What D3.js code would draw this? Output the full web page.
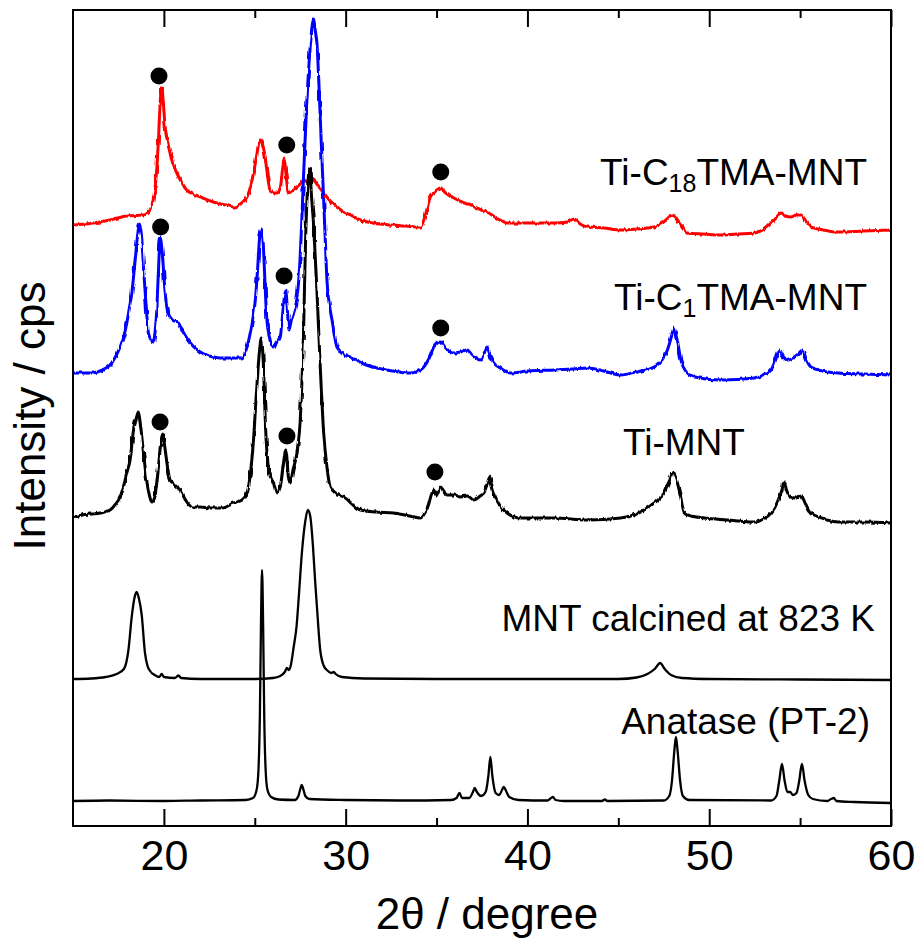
<!DOCTYPE html>
<html>
<head>
<meta charset="utf-8">
<script src="https://cdn.jsdelivr.net/npm/d3@7"></script>
<style>
  html, body { margin: 0; padding: 0; background: #fff; }
  svg { display: block; }
  text { font-family: "Liberation Sans", Arial, Helvetica, sans-serif; fill: #000; }
</style>
</head>
<body>
<svg id="chart" width="917" height="938"></svg>
<script>
// ---------------- DATA (2θ in degrees, intensity in offset cps units) ----------------
const xTicksMajor = [20, 30, 40, 50, 60];
const xTicksMinor = [25, 35, 45, 55];

const tiC18 = [[15,601],[16.12,603],[17.04,606],[17.96,610],[18.88,611],[19.24,616],[19.4,625],[19.52,639],[19.62,660],[19.7,686],[19.8,725],[19.88,738],[19.96,725],[20.07,699],[20.2,684],[20.34,673],[20.5,662],[20.71,653],[21.0,643],[21.26,636],[21.6,632],[22.0,629],[22.91,623],[23.4,621],[23.83,619],[24.2,622],[24.57,629],[24.8,642],[24.93,653],[25.1,670],[25.22,683],[25.3,686],[25.42,682],[25.57,669],[25.7,650],[25.85,636],[26.05,633],[26.22,633],[26.4,638],[26.55,660],[26.62,668],[26.7,655],[26.86,633],[27.1,636],[27.32,639],[27.5,642],[27.69,646],[27.9,644],[28.05,648],[28.24,646],[28.5,640],[28.79,633],[29.1,626],[29.52,619],[29.9,614],[30.26,611],[30.81,606],[31.5,603],[32.5,601],[33.3,600],[34.11,599],[34.4,612],[34.66,629],[34.9,634],[35.21,638],[35.5,633],[35.95,628],[36.4,624],[36.86,621],[37.3,617],[37.78,614],[38.3,608],[38.88,603],[40,603],[41.46,603],[42.2,604],[42.56,607],[42.9,602],[43.3,599],[44.2,598],[45.13,596],[46,597],[46.97,599],[47.5,604],[47.98,611],[48.3,604],[48.8,593],[49.7,592],[50.64,591],[51.5,592],[52.48,593],[53.1,598],[53.58,606],[53.95,613],[54.2,610],[54.49,609],[54.8,611],[55.04,611],[55.3,605],[55.6,599],[56.3,596],[57.07,594],[58.5,595],[60,596]];

const tiC1 = [[15,453],[16.12,453],[16.6,456],[17.04,461],[17.3,468],[17.59,479],[17.8,490],[17.96,503],[18.1,518],[18.23,532],[18.42,566],[18.55,590],[18.66,602],[18.77,590],[18.88,558],[19.0,526],[19.15,493],[19.3,486],[19.42,484],[19.52,495],[19.6,513],[19.7,555],[19.8,588],[19.9,575],[20.07,533],[20.2,515],[20.34,509],[20.55,505],[20.8,504],[21.0,496],[21.26,488],[21.6,480],[22.0,474],[22.5,470],[23.1,468],[23.6,468],[24.2,468],[24.5,475],[24.75,493],[24.9,508],[25.03,526],[25.15,555],[25.25,585],[25.36,597],[25.47,580],[25.57,540],[25.67,505],[25.8,490],[26.03,479],[26.25,484],[26.4,489],[26.55,515],[26.65,532],[26.7,536],[26.78,520],[26.88,496],[27.0,505],[27.14,513],[27.3,526],[27.42,546],[27.55,590],[27.69,653],[27.85,720],[27.97,759],[28.1,790],[28.24,807],[28.33,795],[28.42,783],[28.52,745],[28.6,709],[28.7,665],[28.79,626],[28.88,585],[28.97,546],[29.1,522],[29.25,506],[29.52,479],[29.9,472],[30.26,469],[31.0,462],[31.73,458],[32.6,455],[33.57,453],[34.11,456],[34.3,459],[34.6,468],[34.85,479],[35.05,483],[35.22,484],[35.5,478],[35.95,473],[36.3,474],[36.68,476],[37.0,470],[37.41,466],[37.6,472],[37.78,479],[37.95,470],[38.15,463],[38.5,458],[39.07,453],[40,455],[41.46,456],[42.5,457],[43.3,458],[44.2,455],[45.13,451],[46,454],[46.97,459],[47.4,466],[47.7,476],[47.9,488],[48.07,498],[48.2,490],[48.44,466],[48.7,455],[49.17,449],[50.64,446],[52.48,448],[53.0,451],[53.4,456],[53.65,466],[53.86,476],[54.05,470],[54.3,466],[54.6,468],[54.9,472],[55.13,476],[55.35,466],[55.6,459],[56.2,455],[57.07,453],[58.5,452],[60,451]];

const tiMNT = [[15,308],[15.5,311],[16,312],[16.5,313],[17.04,316],[17.3,321],[17.59,329],[17.8,341],[17.96,353],[18.14,366],[18.33,396],[18.5,409],[18.6,414],[18.7,403],[18.88,373],[19.05,346],[19.2,331],[19.33,324],[19.5,329],[19.7,359],[19.85,386],[19.94,392],[20.05,379],[20.2,359],[20.34,346],[20.5,343],[20.71,339],[20.9,336],[21.1,329],[21.26,324],[21.6,319],[22,319],[22.55,318],[23.2,318],[23.83,323],[24.3,326],[24.57,333],[24.8,359],[24.93,386],[25.1,436],[25.25,473],[25.36,488],[25.47,463],[25.6,396],[25.8,353],[26.03,343],[26.2,333],[26.4,339],[26.55,359],[26.71,376],[26.85,349],[26.95,343],[27.1,356],[27.32,373],[27.5,406],[27.69,500],[27.8,590],[27.95,650],[28.02,658],[28.12,630],[28.24,600],[28.42,535],[28.6,460],[28.79,393],[28.97,359],[29.15,339],[29.5,332],[29.89,329],[30.81,316],[31.7,314],[32.65,313],[33.5,310],[34.11,308],[34.5,318],[34.84,336],[35.0,330],[35.21,339],[35.58,331],[36.0,331],[36.31,329],[36.7,330],[37.05,326],[37.4,330],[37.6,333],[37.8,343],[37.93,349],[38.05,340],[38.24,329],[38.5,320],[38.88,313],[39.62,308],[41.46,308],[43.3,306],[45.13,308],[46.0,312],[46.97,323],[47.3,328],[47.52,333],[47.75,342],[47.98,353],[48.12,350],[48.25,343],[48.42,330],[48.62,313],[49.0,310],[49.72,308],[51,306],[52.48,304],[53.0,307],[53.4,313],[53.65,320],[53.86,329],[54.0,336],[54.12,344],[54.25,336],[54.49,329],[54.75,328],[55.04,331],[55.3,322],[55.6,313],[56.2,308],[57.07,304],[58.5,304],[60,303]];

const mntCalcined = [[15,147],[16,147.5],[16.8,149],[17.4,152],[17.8,157],[18.05,176],[18.23,209],[18.38,228],[18.5,234],[18.62,228],[18.78,211],[18.96,173],[19.1,160],[19.24,155],[19.5,151],[19.75,149],[19.88,152],[20.0,149],[20.6,148],[20.8,150.5],[20.95,148],[22,147],[25,147],[26,148],[26.4,150],[26.65,154],[26.77,158],[26.88,156],[26.96,159],[27.14,179],[27.3,200],[27.42,229],[27.6,275],[27.78,305],[27.92,316],[28.05,310],[28.2,280],[28.32,245],[28.42,219],[28.6,176],[28.8,160],[28.97,156],[29.2,153],[29.35,154],[29.45,152],[29.8,149],[31,147.5],[35,147],[40,147],[45,147],[46,148.5],[46.6,152],[47.0,157],[47.3,163],[47.55,157],[47.9,151],[48.5,148],[50,147],[55,146.5],[60,146]];

const anatase = [[15,25],[17,25.5],[20,25],[22,25.5],[24.5,26],[24.9,28],[25.1,36],[25.2,55],[25.28,110],[25.34,200],[25.4,256],[25.46,200],[25.52,110],[25.6,55],[25.7,36],[25.9,29],[26.3,26.5],[27.2,26],[27.4,30],[27.52,38],[27.58,41],[27.65,38],[27.78,30],[28,27],[30,26],[33,25.5],[35.8,26],[36.1,28],[36.26,33],[36.4,28],[36.8,28],[37.0,34],[37.1,38],[37.22,34],[37.45,30],[37.7,34],[37.85,50],[37.96,69],[38.07,50],[38.25,33],[38.45,31],[38.6,36],[38.7,39],[38.8,36],[39.0,29],[39.5,26],[41.1,25.5],[41.3,28],[41.4,29],[41.55,26],[42,25],[44.1,25],[44.25,26.5],[44.4,25],[47.5,25.5],[47.8,30],[47.95,45],[48.08,75],[48.17,89],[48.26,75],[48.4,45],[48.55,30],[48.9,26],[53.4,25.5],[53.7,30],[53.85,45],[54.0,62],[54.15,45],[54.3,34],[54.45,34],[54.6,31],[54.8,33],[54.95,45],[55.1,62],[55.25,45],[55.45,31],[55.7,27],[56.5,25],[56.7,27],[56.85,28],[57,25],[58,24],[60,23]];

// filled-circle markers (2θ, intensity)
const markers = [[19.73,750],[26.76,681],[35.23,654],[19.82,599],[26.61,550],[35.23,498],[19.79,404],[26.77,390],[34.91,354]];

// ---------------- LAYOUT ----------------
const plot = { left: 73, right: 891, top: 10, bottom: 826 };
const svg = d3.select("#chart");

const x = d3.scaleLinear().domain([15, 60]).range([plot.left, plot.right]);
const y = d3.scaleLinear().domain([0, 816]).range([plot.bottom, plot.top]);

const line = d3.line().x(d => x(d[0])).y(d => y(d[1])).curve(d3.curveMonotoneX);

const series = [
  { data: tiC18, color: "#ff0000", rough: true },
  { data: tiC1, color: "#0000ff", rough: true },
  { data: tiMNT, color: "#000000", rough: true },
  { data: mntCalcined, color: "#000000", rough: false },
  { data: anatase, color: "#000000", rough: false }
];

const defs = svg.append("defs");
defs.append("clipPath").attr("id", "clip").append("rect")
  .attr("x", plot.left).attr("y", plot.top)
  .attr("width", plot.right - plot.left).attr("height", plot.bottom - plot.top);

// visual roughness to mimic counting noise of the measured patterns
const f = defs.append("filter").attr("id", "rough")
  .attr("filterUnits", "userSpaceOnUse")
  .attr("x", 0).attr("y", 0).attr("width", 917).attr("height", 938);
f.append("feTurbulence").attr("type", "fractalNoise")
  .attr("baseFrequency", "0.35 0.06").attr("numOctaves", 2).attr("seed", 3).attr("result", "noise");
f.append("feDisplacementMap").attr("in", "SourceGraphic").attr("in2", "noise")
  .attr("scale", 3.5).attr("xChannelSelector", "G").attr("yChannelSelector", "R");

const g = svg.append("g").attr("clip-path", "url(#clip)");
g.selectAll("path.trace").data(series).enter().append("path")
  .attr("class", "trace")
  .attr("d", d => line(d.data))
  .attr("fill", "none")
  .attr("stroke", d => d.color)
  .attr("stroke-width", d => d.rough ? 3.0 : 2.3)
  .attr("stroke-linejoin", "round")
  .attr("filter", d => d.rough ? "url(#rough)" : null);

g.selectAll("circle.mk").data(markers).enter().append("circle")
  .attr("cx", d => x(d[0])).attr("cy", d => y(d[1])).attr("r", 8.5)
  .attr("fill", "#000");

// ---------------- AXES ----------------
function styleAxis(sel) {
  sel.select(".domain").remove();
  sel.selectAll("line").attr("stroke", "#000").attr("stroke-width", 2);
}
const bAx = svg.append("g").attr("transform", `translate(0,${plot.bottom})`)
  .call(d3.axisBottom(x).tickValues(xTicksMajor).tickSize(-17).tickPadding(13).tickFormat(d3.format("d")));
styleAxis(bAx);
bAx.selectAll("text").attr("font-size", 43).attr("font-family", '"Liberation Sans", Arial, sans-serif');

styleAxis(svg.append("g").attr("transform", `translate(0,${plot.bottom})`)
  .call(d3.axisBottom(x).tickValues(xTicksMinor).tickSize(-8).tickFormat("")));
styleAxis(svg.append("g").attr("transform", `translate(0,${plot.top})`)
  .call(d3.axisTop(x).tickValues(xTicksMajor).tickSize(-17).tickFormat("")));
styleAxis(svg.append("g").attr("transform", `translate(0,${plot.top})`)
  .call(d3.axisTop(x).tickValues(xTicksMinor).tickSize(-8).tickFormat("")));

svg.append("rect")
  .attr("x", plot.left).attr("y", plot.top)
  .attr("width", plot.right - plot.left).attr("height", plot.bottom - plot.top)
  .attr("fill", "none").attr("stroke", "#000").attr("stroke-width", 2);

// axis titles
svg.append("text")
  .attr("x", 487).attr("y", 929)
  .attr("text-anchor", "middle").attr("font-size", 44)
  .text("2θ / degree");

svg.append("text")
  .attr("transform", "translate(45,416) rotate(-90)")
  .attr("text-anchor", "middle").attr("font-size", 44)
  .text("Intensity / cps");

// ---------------- SERIES LABELS ----------------
const lab1 = svg.append("text").attr("x", 867).attr("y", 185).attr("text-anchor", "end").attr("font-size", 37);
lab1.append("tspan").text("Ti-C");
lab1.append("tspan").attr("font-size", 25).attr("dy", 7).text("18");
lab1.append("tspan").attr("dy", -7).text("TMA-MNT");

const lab2 = svg.append("text").attr("x", 867).attr("y", 310).attr("text-anchor", "end").attr("font-size", 37);
lab2.append("tspan").text("Ti-C");
lab2.append("tspan").attr("font-size", 25).attr("dy", 7).text("1");
lab2.append("tspan").attr("dy", -7).text("TMA-MNT");

svg.append("text").attr("x", 623).attr("y", 455).attr("font-size", 37).text("Ti-MNT");
svg.append("text").attr("x", 875).attr("y", 631).attr("text-anchor", "end").attr("font-size", 37).text("MNT calcined at 823 K");
svg.append("text").attr("x", 870).attr("y", 734).attr("text-anchor", "end").attr("font-size", 37).text("Anatase (PT-2)");
</script>
</body>
</html>
